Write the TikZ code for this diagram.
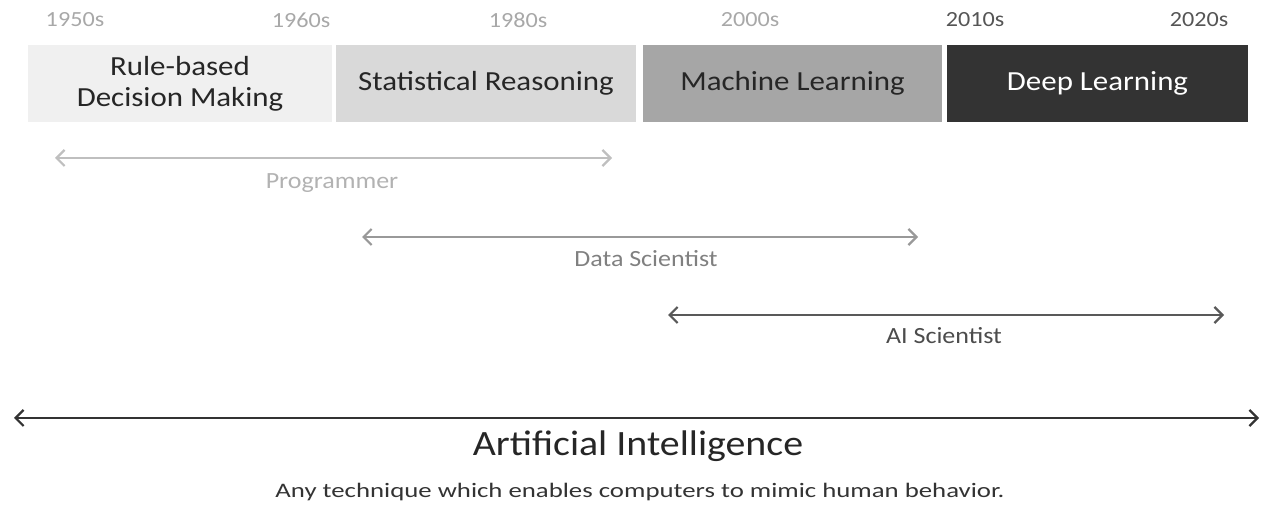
\documentclass[tikz,border=0pt]{standalone}
\usepackage{fontspec}
\setmainfont[FakeStretch=1.12]{Carlito}
\newfontfamily\widefont[FakeStretch=1.3]{Carlito}
\usetikzlibrary{arrows.meta}

\definecolor{eraone}{HTML}{F0F0F0}
\definecolor{eratwo}{HTML}{D9D9D9}
\definecolor{erathree}{HTML}{A6A6A6}
\definecolor{erafour}{HTML}{333333}
\definecolor{yearlight}{HTML}{A8A8A8}
\definecolor{yeardark}{HTML}{555555}

\begin{document}
\begin{tikzpicture}[x=0.5pt,y=-0.5pt,
  erabox/.style={inner sep=0pt, minimum height=38.5pt, align=center,
    font=\fontsize{13.8}{15.5}\selectfont},
  yearlabel/.style={font=\fontsize{10.8}{12}\selectfont},
  rolelabel/.style={font=\fontsize{11.6}{13}\selectfont},
  spanarrow/.style={{Straight Barb[length=4pt,width=8pt]}-{Straight Barb[length=4pt,width=8pt]}, line width=1.1pt}]
\useasboundingbox (0,0) rectangle (1261,506);

% years
\node[yearlabel, text=yearlight] (y1950) at (75,20) {1950s};
\node[yearlabel, text=yearlight] (y1960) at (301,20) {1960s};
\node[yearlabel, text=yearlight] (y1980) at (518,20) {1980s};
\node[yearlabel, text=yearlight] (y2000) at (750,20) {2000s};
\node[yearlabel, text=yeardark] (y2010) at (975,20) {2010s};
\node[yearlabel, text=yeardark] (y2020) at (1199,20) {2020s};

% eras
\node[erabox, fill=eraone, minimum width=152pt, text=black!85] (rule) at (180,83.5) {Rule-based\\Decision Making};
\node[erabox, fill=eratwo, minimum width=150pt, text=black!85] (stat) at (486,83.5) {Statistical Reasoning};
\node[erabox, fill=erathree, minimum width=149.5pt, text=black!85] (ml) at (792.5,83.5) {Machine Learning};
\node[erabox, fill=erafour, minimum width=150.5pt, text=white] (dl) at (1097.5,83.5) {Deep Learning};

% roles
\coordinate (prog-l) at (55,158);
\coordinate (prog-r) at (612,158);
\coordinate (data-l) at (362,237);
\coordinate (data-r) at (918,237);
\coordinate (ais-l) at (668,315);
\coordinate (ais-r) at (1224,315);
\coordinate (ai-l) at (14,418);
\coordinate (ai-r) at (1259,418);

\draw[spanarrow, draw=black!25] (prog-l) -- (prog-r);
\node[rolelabel, text=black!30] (prog) at (332,183) {Programmer};
\draw[spanarrow, draw=black!40] (data-l) -- (data-r);
\node[rolelabel, text=black!50] (data) at (646,259) {Data Scientist};
\draw[spanarrow, draw=black!65] (ais-l) -- (ais-r);
\node[rolelabel, text=black!70] (ais) at (944,336) {AI Scientist};
\draw[spanarrow, draw=black!80] (ai-l) -- (ai-r);
\node[font=\fontsize{17.8}{20}\selectfont, text=black!85] (ai) at (638,446) {Artificial Intelligence};
\node[font=\widefont\fontsize{10.3}{12}\selectfont, text=black!80] (aidef) at (640,492) {Any technique which enables computers to mimic human behavior.};
\end{tikzpicture}
\end{document}
